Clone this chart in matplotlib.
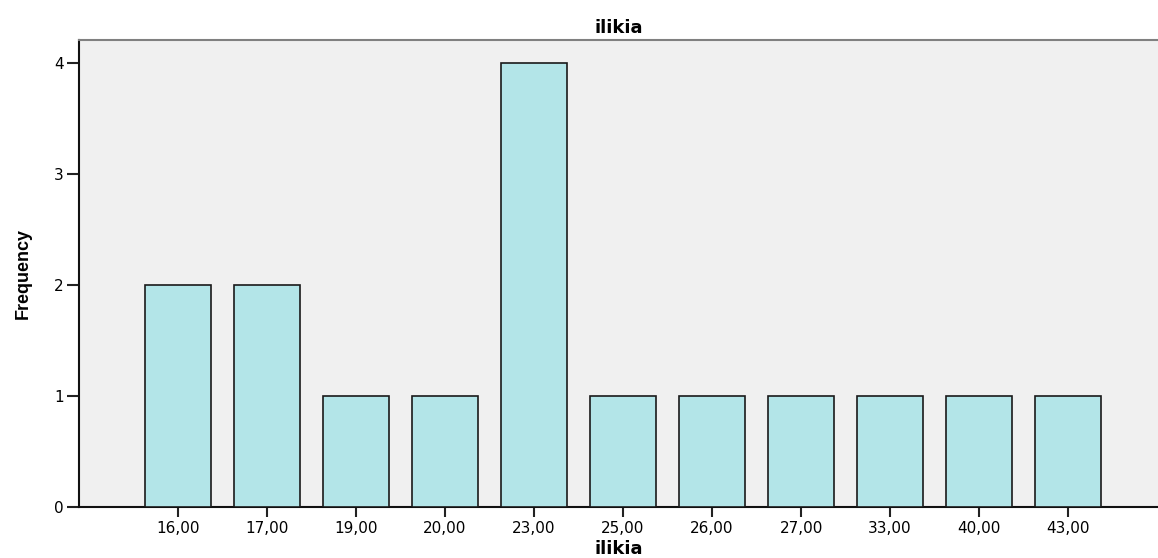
import matplotlib
matplotlib.use("Agg")
import matplotlib.pyplot as plt
import numpy as np

plt.rcParams["font.family"] = ["DejaVu Sans"]

categories = ["16,00", "17,00", "19,00", "20,00", "23,00", "25,00", "26,00", "27,00", "33,00", "40,00", "43,00"]
frequency = [2, 2, 1, 1, 4, 1, 1, 1, 1, 1, 1]
yticks = [0, 1, 2, 3, 4]

fig = plt.figure(figsize=(11.58, 5.58), dpi=100)
ax = fig.add_axes([79/1158, 1 - 507/558, 1 - 79/1158, (507 - 40)/558])
ax.set_facecolor("#f0f0f0")

x = np.arange(len(categories))
ax.bar(x, frequency, width=0.75, color="#b3e5e8", edgecolor="#1a1a1a", linewidth=1.2, zorder=3)

ax.set_xlim(-1.112, 11.01)
ax.set_ylim(0, 4.21)
ax.set_xticks(x)
ax.set_xticklabels(categories, fontsize=11)
ax.set_yticks(yticks)
ax.set_yticklabels([str(t) for t in yticks], fontsize=11)
ax.tick_params(axis="y", length=9, width=1.5, color="#222222", pad=2)
ax.tick_params(axis="x", length=7, width=1.5, color="#222222", pad=3)

ax.spines["right"].set_visible(False)
ax.spines["top"].set_color("#808080")
ax.spines["top"].set_linewidth(1.5)
ax.spines["left"].set_color("#111111")
ax.spines["left"].set_linewidth(1.5)
ax.spines["bottom"].set_color("#111111")
ax.spines["bottom"].set_linewidth(1.5)

ax.set_title("ilikia", fontsize=13, fontweight="bold", pad=5)
ax.set_xlabel("ilikia", fontsize=13, fontweight="bold", labelpad=3)
ax.set_ylabel("Frequency", fontsize=13, fontweight="bold", family="Liberation Sans", labelpad=16)

fig.savefig("out.png", dpi=100)
